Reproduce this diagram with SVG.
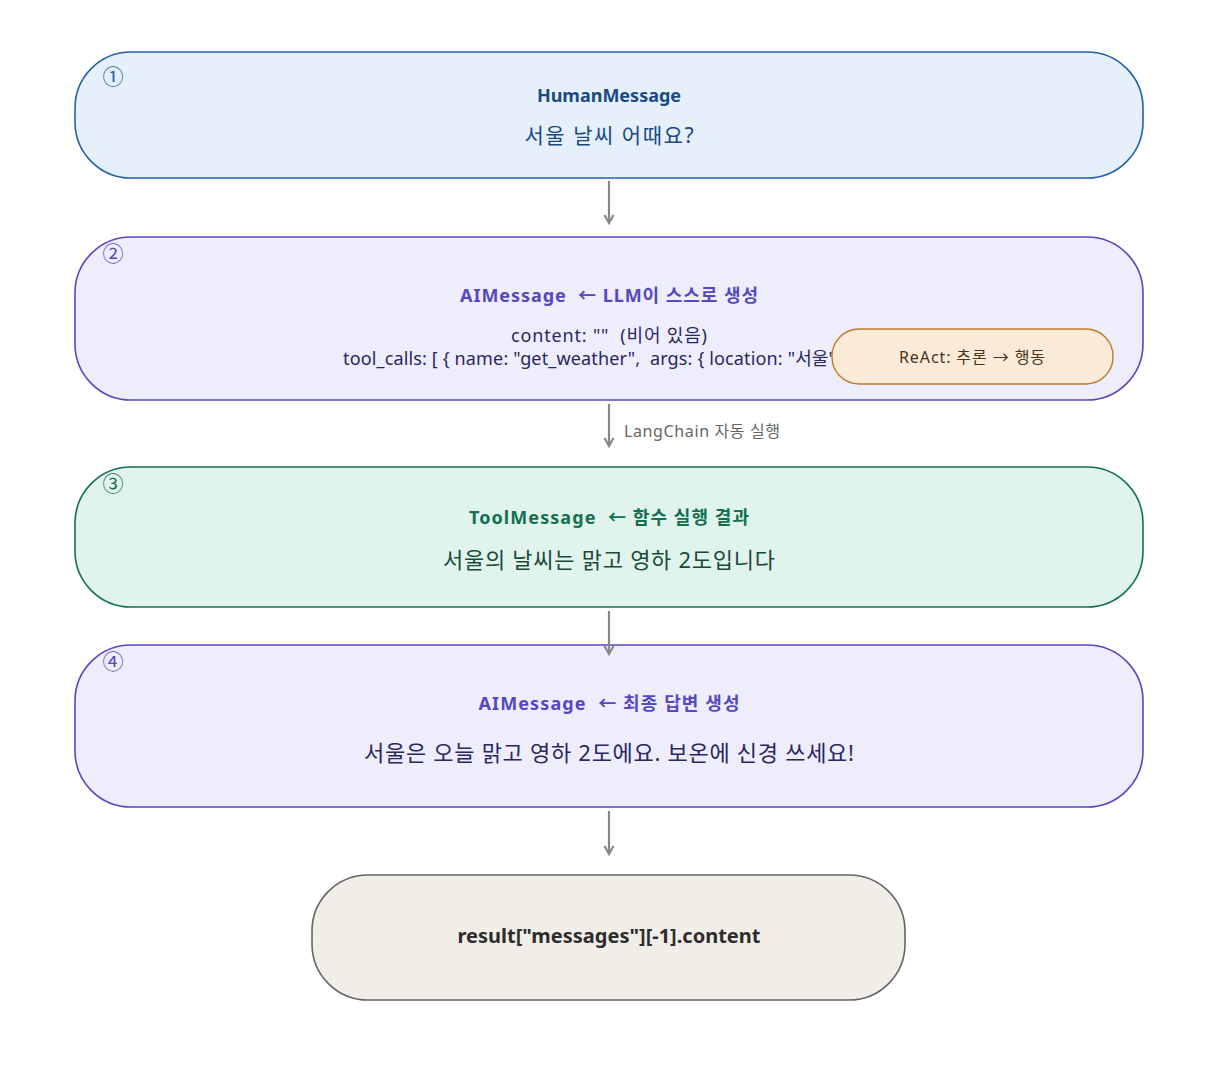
<svg xmlns="http://www.w3.org/2000/svg" width="1217" height="1067" viewBox="0 0 1217 1067">
<defs>
<marker id="ah" markerWidth="12" markerHeight="12" refX="9" refY="6" orient="auto" markerUnits="userSpaceOnUse" viewBox="0 0 12 12">
<path d="M1,1.5 L9,6 L1,10.5" fill="none" stroke="#888888" stroke-width="2.2"/>
</marker>
<style>
text{font-family:"Noto Sans","Noto Sans CJK KR",sans-serif;}
.t{font-weight:bold;font-size:18px;text-anchor:middle;}
.b{font-size:21px;text-anchor:middle;}
.n{font-size:18px;text-anchor:middle;}
.num{font-size:21px;text-anchor:middle;}
.c{stroke:#888888;stroke-width:2.2;fill:none;marker-end:url(#ah);}
</style>
</defs>
<rect width="1217" height="1067" fill="#ffffff"/>
<g id="node1">
<rect x="75" y="52" width="1068" height="126" rx="56" fill="#e5f0fa" stroke="#2361a9" stroke-width="1.6"/>
<text x="113" y="84" class="num" fill="#2361a9">①</text>
<text x="609" y="102" class="t" fill="#1a4a85">HumanMessage</text>
<text x="609" y="143" class="b" fill="#1a4a85" textLength="169" lengthAdjust="spacing">서울 날씨 어때요?</text>
</g>
<g id="node2">
<rect x="75" y="237" width="1068" height="163" rx="56" fill="#eeedfc" stroke="#5548c0" stroke-width="1.6"/>
<text x="113" y="261" class="num" fill="#5548c0">②</text>
<text x="609" y="302" class="t" fill="#5548c0" xml:space="preserve" textLength="298" lengthAdjust="spacing">AIMessage  ← LLM이 스스로 생성</text>
<text x="609" y="342" class="n" fill="#2a2760" xml:space="preserve" textLength="196" lengthAdjust="spacing">content: ""  (비어 있음)</text>
<text x="343" y="365" font-size="18" fill="#2a2760" xml:space="preserve" letter-spacing="0.15">tool_calls: [ { name: "get_weather",  args: { location: "서울" } } ]</text>
</g>
<g id="node2b">
<rect x="832" y="329" width="281" height="55" rx="27" fill="#faebd8" stroke="#c07a2a" stroke-width="1.4"/>
<text x="972" y="363" font-size="16" text-anchor="middle" fill="#4a3418" textLength="146" lengthAdjust="spacing">ReAct: 추론 → 행동</text>
</g>
<g id="node3">
<rect x="75" y="467" width="1068" height="140" rx="56" fill="#e0f3ec" stroke="#137050" stroke-width="1.6"/>
<text x="113" y="491" class="num" fill="#137050">③</text>
<text x="609" y="524" class="t" fill="#137050" xml:space="preserve" textLength="280" lengthAdjust="spacing">ToolMessage  ← 함수 실행 결과</text>
<text x="609" y="568" class="b" fill="#1a4a3a" style="font-size:22px" textLength="332" lengthAdjust="spacing">서울의 날씨는 맑고 영하 2도입니다</text>
</g>
<g id="node4">
<rect x="75" y="645" width="1068" height="162" rx="56" fill="#eeedfc" stroke="#5548c0" stroke-width="1.6"/>
<text x="113" y="669" class="num" fill="#5548c0">④</text>
<text x="609" y="710" class="t" fill="#5548c0" xml:space="preserve" textLength="261" lengthAdjust="spacing">AIMessage  ← 최종 답변 생성</text>
<text x="609" y="761" class="b" fill="#2a2760" style="font-size:22px" textLength="490" lengthAdjust="spacing">서울은 오늘 맑고 영하 2도에요. 보온에 신경 쓰세요!</text>
</g>
<g id="node5">
<rect x="312" y="875" width="593" height="125" rx="56" fill="#f1eee7" stroke="#666666" stroke-width="1.6"/>
<text x="609" y="943" class="t" fill="#2d2d2d" style="font-size:20px">result["messages"][-1].content</text>
</g>
<g id="connectors">
<line class="c" x1="609" y1="181" x2="609" y2="223"/>
<line class="c" x1="609" y1="404" x2="609" y2="446"/>
<text x="624" y="437" font-size="16" fill="#666666" textLength="156" lengthAdjust="spacing">LangChain 자동 실행</text>
<line class="c" x1="609" y1="611" x2="609" y2="654"/>
<line class="c" x1="609" y1="811" x2="609" y2="854"/>
</g>
</svg>
